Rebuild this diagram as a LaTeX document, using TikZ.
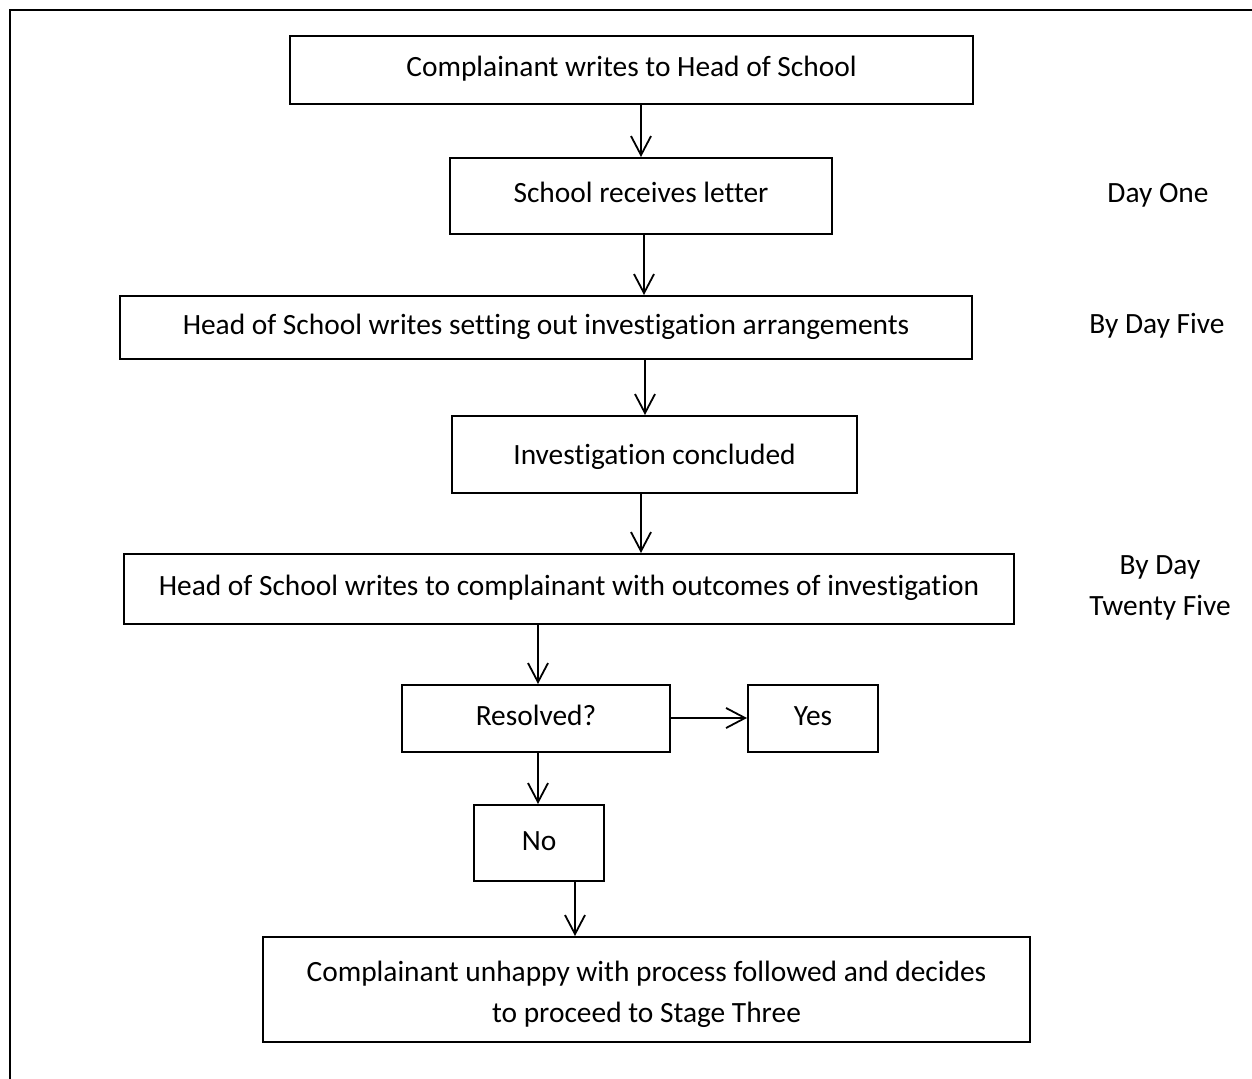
\documentclass[tikz,border=0pt]{standalone}
\usepackage{fontspec}
\setmainfont{Carlito}[Ligatures={NoCommon}]
\usetikzlibrary{arrows.meta}
\begin{document}
\begin{tikzpicture}[x=0.5pt,y=-0.5pt,
  every node/.style={font=\fontsize{14.7pt}{20.5pt}\selectfont},
  box/.style 2 args={draw,line width=1pt,inner sep=0pt,align=center,
    minimum width={#1*0.5pt},minimum height={#2*0.5pt}},
  one/.style={text height=10.3pt,text depth=3.3pt},
  lbl/.style={align=center,inner sep=0pt},
  arr/.style={line width=0.9pt,-{Straight Barb[length=9.5pt,width=10pt,line width=0.9pt]}}]
\useasboundingbox (0,0) rectangle (1252,1079);
\draw[line width=1.4pt] (10,1085) -- (10,10) -- (1260,10);
\node[box={683}{68},one] (n1) at (631.5,70) {Complainant writes to Head of School};
\node[box={382}{76},one] (n2) at (641,196) {School receives letter};
\node[box={852}{63},one] (n3) at (546,327.5) {Head of School writes setting out investigation arrangements};
\node[box={405}{77},one,text height=13.3pt] (n4) at (654.5,454.5) {Investigation concluded};
\node[box={890}{70},one] (n5) at (569,589) {Head of School writes to complainant with outcomes of investigation};
\node[box={268}{67},one] (n6) at (536,718.5) {Resolved?};
\node[box={130}{67},one] (n7) at (813,718.5) {Yes};
\node[box={130}{76},one] (n8) at (539,843) {No};
\node[box={767}{105}] (n9) at (646.5,989.5) {\rule{0pt}{15.5pt}Complainant unhappy with process followed and decides\\to proceed to Stage Three};
\node[lbl,one] (d1) at (1158,196) {Day One};
\node[lbl,one] (d2) at (1157,327) {By Day Five};
\node[lbl] (d3) at (1160,588) {By Day\\Twenty Five};
\coordinate (x1) at (641,0);
\coordinate (x2) at (644,0);
\coordinate (x3) at (645,0);
\coordinate (x4) at (641,0);
\coordinate (x5) at (538,0);
\coordinate (x6) at (538,0);
\coordinate (x7) at (575,0);
\coordinate (y6) at (0,718);
\draw[arr] (n1.south -| x1) -- (n2.north -| x1);
\draw[arr] (n2.south -| x2) -- (n3.north -| x2);
\draw[arr] (n3.south -| x3) -- (n4.north -| x3);
\draw[arr] (n4.south -| x4) -- (n5.north -| x4);
\draw[arr] (n5.south -| x5) -- (n6.north -| x5);
\draw[arr] (n6.east |- y6) -- (n7.west |- y6);
\draw[arr] (n6.south -| x6) -- (n8.north -| x6);
\draw[arr] (n8.south -| x7) -- (n9.north -| x7);
\end{tikzpicture}
\end{document}
